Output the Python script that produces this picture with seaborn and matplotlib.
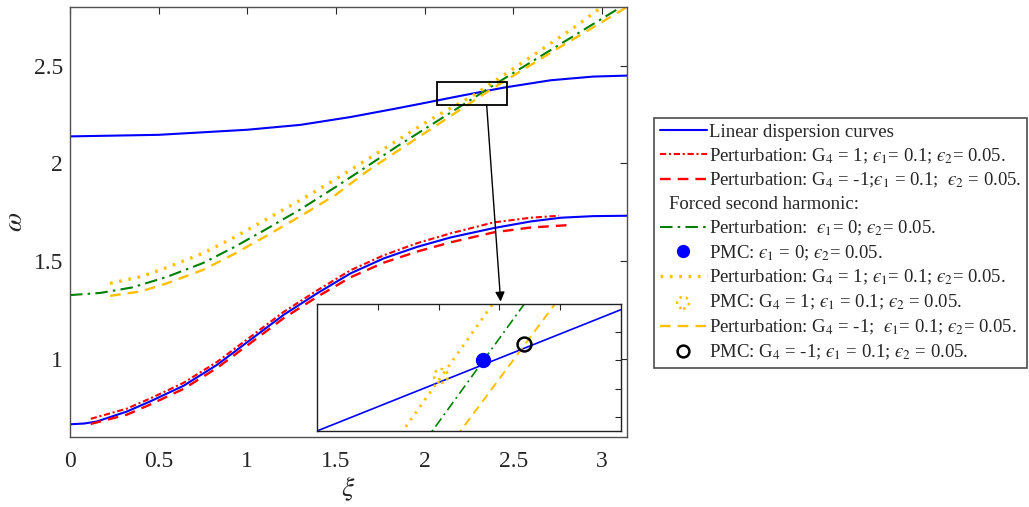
import numpy as np
import pandas as pd
import matplotlib
matplotlib.use("Agg")
import matplotlib.pyplot as plt
from matplotlib.lines import Line2D
from matplotlib.patches import Rectangle
import seaborn as sns

# ---------------- data ----------------
xi_lin_low = [0, 0.08, 0.15, 0.32, 0.452, 0.64, 0.829, 1.017, 1.205, 1.394, 1.582,
              1.77, 1.959, 2.147, 2.39, 2.6, 2.77, 2.95, 3.1416]
w_lin_low = [0.665, 0.669, 0.679, 0.73, 0.782, 0.862, 0.969, 1.097, 1.225, 1.335, 1.437,
             1.514, 1.573, 1.621, 1.669, 1.703, 1.722, 1.730, 1.732]

xi_lin_up = [0, 0.5, 1.0, 1.3, 1.582, 1.83, 2.0, 2.2, 2.45, 2.71, 2.95, 3.1416]
w_lin_up = [2.138, 2.146, 2.172, 2.197, 2.237, 2.279, 2.309, 2.345, 2.388, 2.425, 2.444, 2.449]

xi_pert_p = [0.117, 0.32, 0.452, 0.64, 0.829, 1.017, 1.205, 1.394, 1.582, 1.77, 1.959,
             2.147, 2.39, 2.6, 2.757]
w_pert_p = [0.693, 0.745, 0.797, 0.877, 0.984, 1.112, 1.240, 1.350, 1.453, 1.530, 1.592,
            1.642, 1.698, 1.722, 1.732]

xi_pert_m = [0.117, 0.32, 0.452, 0.64, 0.829, 1.017, 1.205, 1.394, 1.582, 1.77, 1.959,
             2.147, 2.39, 2.6, 2.81]
w_pert_m = [0.667, 0.714, 0.766, 0.846, 0.953, 1.08, 1.208, 1.317, 1.417, 1.492, 1.549,
            1.596, 1.647, 1.672, 1.684]

xi_sh0 = [0, 0.17, 0.35, 0.546, 0.75, 0.923, 1.1, 1.3, 1.5, 1.676, 1.85, 2.034,
          2.2948, 2.3705, 2.6, 2.85, 3.09, 3.1416]
w_sh0 = [1.326, 1.337, 1.365, 1.419, 1.49, 1.57, 1.66, 1.765, 1.88, 1.985, 2.09, 2.195,
         2.345, 2.39, 2.518, 2.657, 2.79, 2.818]

xi_sh_p = [0.226, 0.4, 0.546, 0.75, 0.923, 1.1, 1.3, 1.5, 1.676, 1.85, 2.034,
           2.2705, 2.3445, 2.6, 2.85, 3.0]
w_sh_p = [1.386, 1.42, 1.467, 1.54, 1.62, 1.71, 1.812, 1.92, 2.02, 2.12, 2.225,
          2.345, 2.39, 2.545, 2.70, 2.80]

xi_sh_m = [0.226, 0.4, 0.546, 0.75, 0.923, 1.1, 1.3, 1.5, 1.676, 1.85, 2.034,
           2.318, 2.3957, 2.7, 3.1416]
w_sh_m = [1.322, 1.345, 1.386, 1.455, 1.535, 1.625, 1.73, 1.84, 1.96, 2.065, 2.175,
          2.345, 2.39, 2.56, 2.80]

pmc0_xi, pmc0_w = [2.3365], [2.370]
pmcp_xi, pmcp_w = [2.302], [2.3645]
pmcm_xi, pmcm_w = [2.3705], [2.376]

EPS = "\u03f5"
labels = [
    "Linear dispersion curves",
    "Perturbation: G$_4$ = 1; $" + EPS + "_1$= 0.1; $" + EPS + "_2$= 0.05.",
    "Perturbation: G$_4$ = -1;$" + EPS + "_1$ = 0.1;  $" + EPS + "_2$ = 0.05.",
    "Forced second harmonic:",
    "Perturbation:  $" + EPS + "_1$= 0; $" + EPS + "_2$= 0.05.",
    "PMC: $" + EPS + "_1$ = 0; $" + EPS + "_2$= 0.05.",
    "Perturbation: G$_4$ = 1; $" + EPS + "_1$= 0.1; $" + EPS + "_2$= 0.05.",
    "PMC: G$_4$ = 1; $" + EPS + "_1$ = 0.1; $" + EPS + "_2$ = 0.05.",
    "Perturbation: G$_4$ = -1;  $" + EPS + "_1$= 0.1; $" + EPS + "_2$= 0.05.",
    "PMC: G$_4$ = -1; $" + EPS + "_1$ = 0.1; $" + EPS + "_2$ = 0.05.",
]

x_ticks = [0, 0.5, 1, 1.5, 2, 2.5, 3]
x_ticklabels = ["0", "0.5", "1", "1.5", "2", "2.5", "3"]
y_ticks = [1, 1.5, 2, 2.5]
y_ticklabels = ["1", "1.5", "2", "2.5"]

main_xlim = (0, np.pi)
main_ylim = (0.6, 2.8)
ins_xlim = (2.2, 2.45)
ins_ylim = (2.345, 2.39)
ins_xticks = [2.25, 2.30, 2.35, 2.40]
ins_yticks = [2.35, 2.36, 2.37, 2.38]
zoom_box = (2.068, 2.30, 0.399, 0.115)   # x, y, width, height
arrow_from = (2.35, 2.30)
arrow_to = (2.429, 1.293)

# ---------------- style ----------------
sns.set_theme(style="white")
plt.rcParams["font.family"] = ["Liberation Serif", "DejaVu Serif"]
plt.rcParams["mathtext.fontset"] = "stix"
plt.rcParams["xtick.direction"] = "in"
plt.rcParams["ytick.direction"] = "in"

BLUE = "#0000FF"
RED = "#FF0000"
GREEN = "#008000"
YELLOW = "#FFC000"

ls_p = (0, (3, 1.3, 1, 1.3))
ls_dash = (0, (4.5, 3))
ls_dd = (0, (6, 2.5, 1.2, 2.5))
ls_dot = (0, (0.8, 2.0))

fig = plt.figure(figsize=(10.29, 5.07), dpi=100)
ax = fig.add_axes([70 / 1029, 1 - 437 / 507, 557 / 1029, 430 / 507])


def draw_curves(a, lw=1.5):
    sns.lineplot(x=xi_lin_low, y=w_lin_low, ax=a, color=BLUE, lw=lw, sort=False)
    sns.lineplot(x=xi_lin_up, y=w_lin_up, ax=a, color=BLUE, lw=lw, sort=False)
    sns.lineplot(x=xi_pert_p, y=w_pert_p, ax=a, color=RED, lw=lw, linestyle=ls_p, sort=False)
    sns.lineplot(x=xi_pert_m, y=w_pert_m, ax=a, color=RED, lw=lw + 0.2, linestyle=ls_dash, sort=False)
    sns.lineplot(x=xi_sh0, y=w_sh0, ax=a, color=GREEN, lw=lw, linestyle=ls_dd, sort=False)
    sns.lineplot(x=xi_sh_p, y=w_sh_p, ax=a, color=YELLOW, lw=lw + 0.9, linestyle=ls_dot, sort=False)
    sns.lineplot(x=xi_sh_m, y=w_sh_m, ax=a, color=YELLOW, lw=lw + 0.2, linestyle=ls_dash, sort=False)


draw_curves(ax)

ax.set_xlim(*main_xlim)
ax.set_ylim(*main_ylim)
ax.set_xticks(x_ticks)
ax.set_xticklabels(x_ticklabels)
ax.set_yticks(y_ticks)
ax.set_yticklabels(y_ticklabels)
ax.tick_params(axis="both", which="both", direction="in", length=5, width=0.8,
               top=True, right=True, labelsize=17, colors="#262626")
ax.tick_params(axis="x", pad=10)
ax.tick_params(axis="y", pad=5)
for s in ax.spines.values():
    s.set_color("#505050")
    s.set_linewidth(1.0)
ax.set_xlabel(r"$\xi$", fontsize=20, labelpad=2)
ax.set_ylabel(r"$\omega$", fontsize=20, labelpad=4)

# zoom box + arrow
ax.add_patch(Rectangle(zoom_box[:2], zoom_box[2], zoom_box[3], fill=False,
                       edgecolor="black", lw=1.3, zorder=5))
ax.annotate("", xy=arrow_to, xytext=arrow_from,
            arrowprops=dict(arrowstyle="-|>", color="black", lw=1.0,
                            mutation_scale=14, shrinkA=0, shrinkB=0))

# ---------------- inset ----------------
axins = fig.add_axes([317 / 1029, 1 - 431 / 507, 304 / 1029, 127 / 507])
axins.set_facecolor("white")
draw_curves(axins, lw=1.2)
h_pmc0, = axins.plot(pmc0_xi, pmc0_w, "o", color=BLUE, ms=10, zorder=6)
h_pmcp = axins.scatter(pmcp_xi, pmcp_w, s=100, facecolors="none", edgecolors=YELLOW,
                       linewidths=1.8, linestyles=":", zorder=6)
h_pmcm, = axins.plot(pmcm_xi, pmcm_w, "o", mfc="none", mec="black", mew=1.8, ms=10, zorder=6)
axins.set_xlim(*ins_xlim)
axins.set_ylim(*ins_ylim)
axins.set_xticks(ins_xticks)
axins.set_yticks(ins_yticks)
axins.set_xticklabels([])
axins.set_yticklabels([])
axins.tick_params(axis="both", direction="in", length=4, width=0.8,
                  top=True, right=True, colors="#262626")
for s in axins.spines.values():
    s.set_color("#202020")
    s.set_linewidth(1.0)

# ---------------- legend ----------------
lines = ax.get_lines()
h_lin = lines[0]
h_p = lines[2]
h_m = lines[3]
h_sh0 = lines[4]
h_shp = lines[5]
h_shm = lines[6]
h_blank = Line2D([], [], linestyle="none", marker=None)
handles = [h_lin, h_p, h_m, h_blank, h_sh0, h_pmc0, h_shp, h_pmcp, h_shm, h_pmcm]

leg = fig.legend(handles, labels, loc="upper left",
                 bbox_to_anchor=(654 / 1029, 1 - 118 / 507),
                 borderaxespad=0, frameon=True, fancybox=False, fontsize=13.5,
                 handlelength=2.5, handletextpad=0.15, labelspacing=0.29,
                 borderpad=0.3, markerscale=0.85, scatterpoints=1)
leg.get_frame().set_edgecolor("#202020")
leg.get_frame().set_linewidth(1.2)
leg.get_texts()[3].set_x(-40)

fig.savefig("out.png", dpi=100)
